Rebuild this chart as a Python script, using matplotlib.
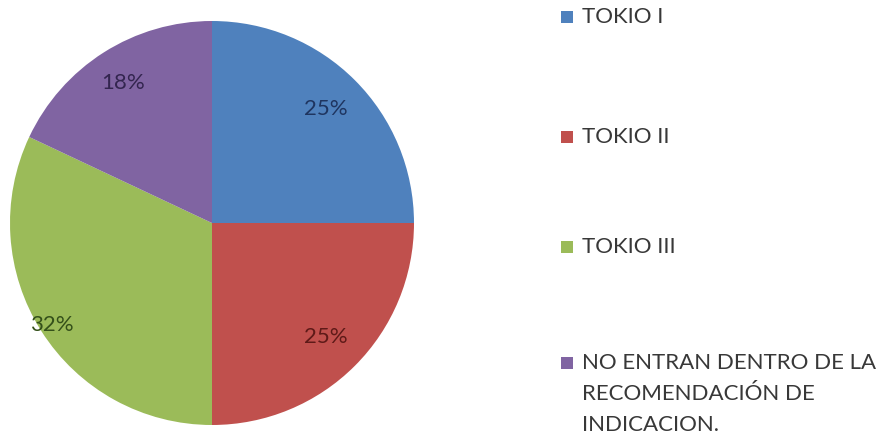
import numpy as np
import matplotlib.pyplot as plt
from matplotlib.patches import Rectangle

# Distribución de pacientes según clasificación de Tokio
labels = ['TOKIO I', 'TOKIO II', 'TOKIO III',
          'NO ENTRAN DENTRO DE LA\nRECOMENDACIÓN DE\nINDICACION.']
values = [25, 25, 32, 18]
colors = ['#4F81BD', '#C0504D', '#9BBB59', '#8064A2']
label_colors = ['#1F3560', '#5E1A18', '#34501A', '#33254F']
# radial position of each percentage label (fraction of radius)
label_radius = [0.8, 0.8, 0.94, 0.82]

plt.rcParams['font.family'] = ['Lato', 'DejaVu Sans']

W, H = 880, 436
fig = plt.figure(figsize=(W / 100, H / 100), dpi=100)

# pie centred at (212, 223) px, radius 202 px
cx, cy, r = 212, 223, 202
ax = fig.add_axes([(cx - r) / W, (H - cy - r) / H, 2 * r / W, 2 * r / H])
wedges, texts, autotexts = ax.pie(
    values, colors=colors, startangle=90, counterclock=False,
    autopct='%1.0f%%', pctdistance=0.8, radius=1,
    wedgeprops=dict(linewidth=0))
for w, t, c, d in zip(wedges, autotexts, label_colors, label_radius):
    mid = np.deg2rad((w.theta1 + w.theta2) / 2)
    t.set_position((d * np.cos(mid), d * np.sin(mid)))
    t.set_color(c)
    t.set_fontsize(16)
ax.set_xlim(-1, 1)
ax.set_ylim(-1, 1)
ax.set_aspect('equal')
ax.axis('off')

# legend drawn by hand so the square sits on the first line of each entry
row_y = [17, 137, 247, 363]
line_h = 31
for lab, col, y in zip(labels, colors, row_y):
    fig.patches.append(Rectangle((561 / W, (H - y - 6) / H), 12 / W, 12 / H,
                                 transform=fig.transFigure, facecolor=col,
                                 edgecolor='none'))
    for i, line in enumerate(lab.split('\n')):
        fig.text(582 / W, (H - y - i * line_h) / H, line, fontsize=16,
                 color='#383838', va='center', ha='left')

fig.savefig('out.png', dpi=100)
